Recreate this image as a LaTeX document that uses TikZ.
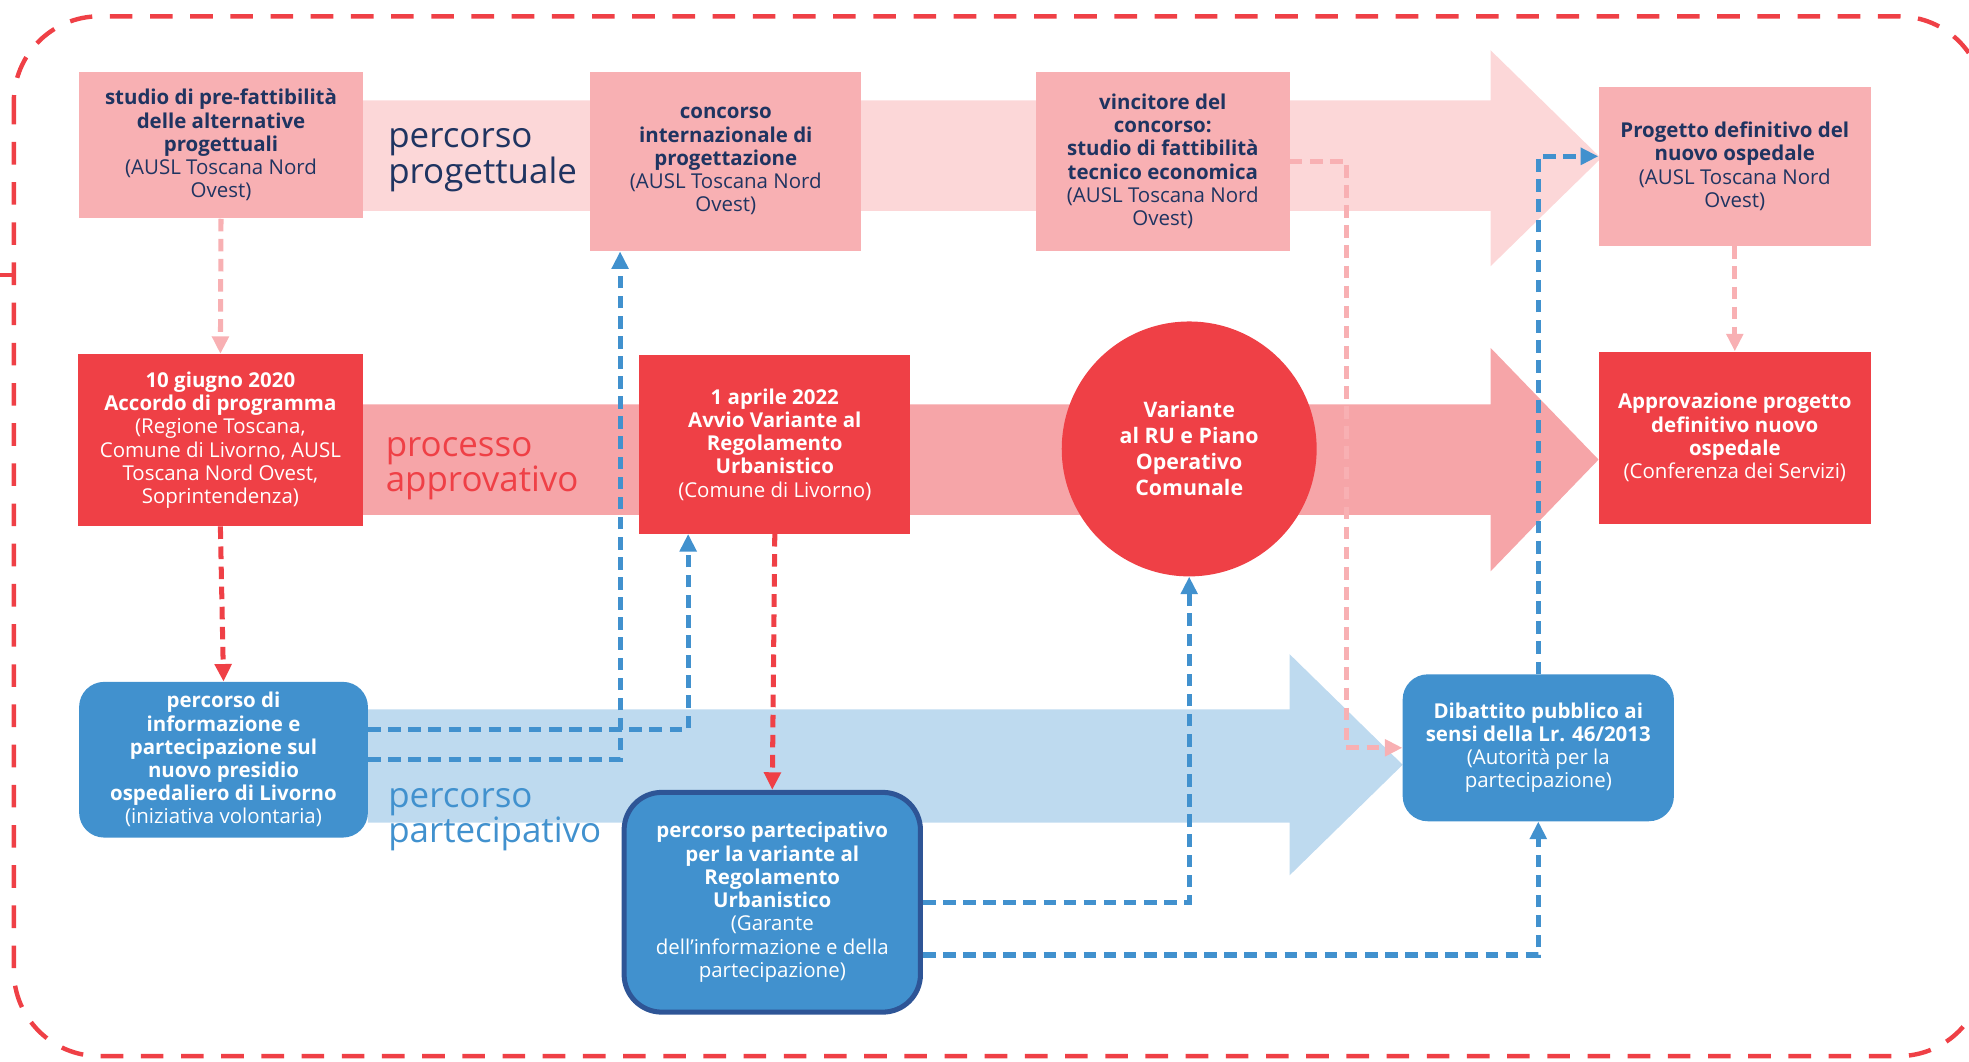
\documentclass[tikz,border=0pt]{standalone}
\usepackage{fontspec}
\setmainfont{Open Sans}
\usetikzlibrary{arrows.meta,calc}
\definecolor{navy}{HTML}{1F3461}
\definecolor{salmon}{HTML}{F8B0B3}
\definecolor{lightpink}{HTML}{FCD7D8}
\definecolor{midpink}{HTML}{F6A5A8}
\definecolor{redc}{HTML}{EF4046}
\definecolor{lightblue}{HTML}{BEDAEF}
\definecolor{bluec}{HTML}{4191CE}
\definecolor{darkblue}{HTML}{2E5596}
\newcommand\boxfont{\fontsize{16.3}{18.5}\selectfont}
\newcommand\bigfont{\fontsize{27.8}{28}\selectfont}
\tikzset{
  box/.style={inner sep=0pt, align=center, font=\boxfont},
  topbox/.style={box, fill=salmon, text=navy},
  redbox/.style={box, fill=redc, text=white},
  bluebox/.style={box, fill=bluec, text=white, rounded corners=20pt},
  conn/.style={line width=4pt, dash pattern=on 10pt off 6pt, -{Triangle[length=14pt,width=13pt]}},
  pinkconn/.style={conn, draw=salmon},
  redconn/.style={conn, draw=redc},
  blueconn/.style={conn, draw=bluec},
  tracklabel/.style={inner sep=0pt, align=left, anchor=west, font=\bigfont},
  border/.style={draw=redc, line width=3.5pt, dash pattern=on 18pt off 14pt, rounded corners=68pt}
}
\begin{document}
\begin{tikzpicture}[x=1pt,y=-1pt]
\useasboundingbox (0,0) rectangle (1568,845);
% outer border
\draw[border] (11,13) rectangle (1580,841);
\draw[redc, line width=3.5pt] (0,219) -- (11,219);
% track bands
\fill[lightpink] (289,80) -- (1187,80) -- (1187,40) -- (1275,126) -- (1187,212) -- (1187,168) -- (289,168) -- cycle;
\fill[midpink] (289,322) -- (1187,322) -- (1187,277) -- (1273,366) -- (1187,455) -- (1187,410) -- (289,410) -- cycle;
\fill[lightblue] (293,565) -- (1027,565) -- (1027,521) -- (1117,609) -- (1027,697) -- (1027,655) -- (293,655) -- cycle;
% track labels
\node[tracklabel, text=navy] (lprog) at (309,127.5) {percorso\\progettuale};
\node[tracklabel, text=redc] (lappr) at (307,373.5) {processo\\approvativo};
\node[tracklabel, text=bluec] (lpart) at (309,652.5) {percorso\\partecipativo};
% top row
\node[topbox, minimum width=226pt, minimum height=117pt] (b1) at (176,115.5)
 {\textbf{studio di pre-fattibilità}\\\textbf{delle alternative}\\\textbf{progettuali}\\(AUSL Toscana Nord\\Ovest)};
\node[topbox, minimum width=216pt, minimum height=143pt] (b2) at (578,128.5)
 {\textbf{concorso}\\\textbf{internazionale di}\\\textbf{progettazione}\\(AUSL Toscana Nord\\Ovest)};
\node[topbox, minimum width=202pt, minimum height=143pt] (b3) at (926,128.5)
 {\textbf{vincitore del}\\\textbf{concorso:}\\\textbf{studio di fattibilità}\\\textbf{tecnico economica}\\(AUSL Toscana Nord\\Ovest)};
\node[topbox, minimum width=217pt, minimum height=127pt] (b4) at (1381.5,132.5)
 {\textbf{Progetto definitivo del}\\\textbf{nuovo ospedale}\\(AUSL Toscana Nord\\Ovest)};
% middle row
\node[redbox, minimum width=227pt, minimum height=137pt] (c1) at (175.5,350.5)
 {\textbf{10 giugno 2020}\\\textbf{Accordo di programma}\\(Regione Toscana,\\Comune di Livorno, AUSL\\Toscana Nord Ovest,\\Soprintendenza)};
\node[redbox, minimum width=216pt, minimum height=142pt] (c2) at (617,354)
 {\textbf{1 aprile 2022}\\\textbf{Avvio Variante al}\\\textbf{Regolamento}\\\textbf{Urbanistico}\\(Comune di Livorno)};
\node[redbox, circle, minimum size=203pt, font=\fontsize{17}{20.7}\selectfont\bfseries] (c3) at (947,357.5)
 {Variante\\al RU e Piano\\Operativo\\Comunale};
\node[redbox, minimum width=217pt, minimum height=137pt] (c4) at (1381.5,348.5)
 {\textbf{Approvazione progetto}\\\textbf{definitivo nuovo}\\\textbf{ospedale}\\(Conferenza dei Servizi)};
% bottom row
\node[bluebox, minimum width=230pt, minimum height=124pt] (d1) at (178,605)
 {\textbf{percorso di}\\\textbf{informazione e}\\\textbf{partecipazione sul}\\\textbf{nuovo presidio}\\\textbf{ospedaliero di Livorno}\\(iniziativa volontaria)};
\node[bluebox, draw=darkblue, line width=4pt, rounded corners=30pt, minimum width=236pt, minimum height=175pt] (d2) at (615,718.5)
 {\textbf{percorso partecipativo}\\\textbf{per la variante al}\\\textbf{Regolamento}\\\textbf{Urbanistico}\\(Garante\\dell’informazione e della\\partecipazione)};
\node[bluebox, minimum width=216pt, minimum height=117pt] (d3) at (1225,595.5)
 {\textbf{Dibattito pubblico ai}\\\textbf{sensi della Lr. 46/2013}\\(Autorità per la\\partecipazione)};
% connectors
\draw[pinkconn] (b1.south) -- (c1.north);
\draw[redconn] (c1.south) -- (d1.north);
\draw[blueconn] ([yshift=24pt]d1.east) -| ([xshift=-69pt]c2.south);
\draw[blueconn] (d1.east) -| ([xshift=24pt]b2.south west);
\draw[redconn] (c2.south) -- (d2.north);
\draw[blueconn] (d2.east) -| (c3.south);
\draw[blueconn] ([yshift=-42pt]d2.east) -| (d3.south);
\draw[pinkconn] (b3.east) -- ++(45,0) |- (d3.west);
\draw[blueconn] (d3.north) |- ([yshift=8pt]b4.west);
\draw[pinkconn] (b4.south) -- (c4.north);
\end{tikzpicture}
\end{document}
